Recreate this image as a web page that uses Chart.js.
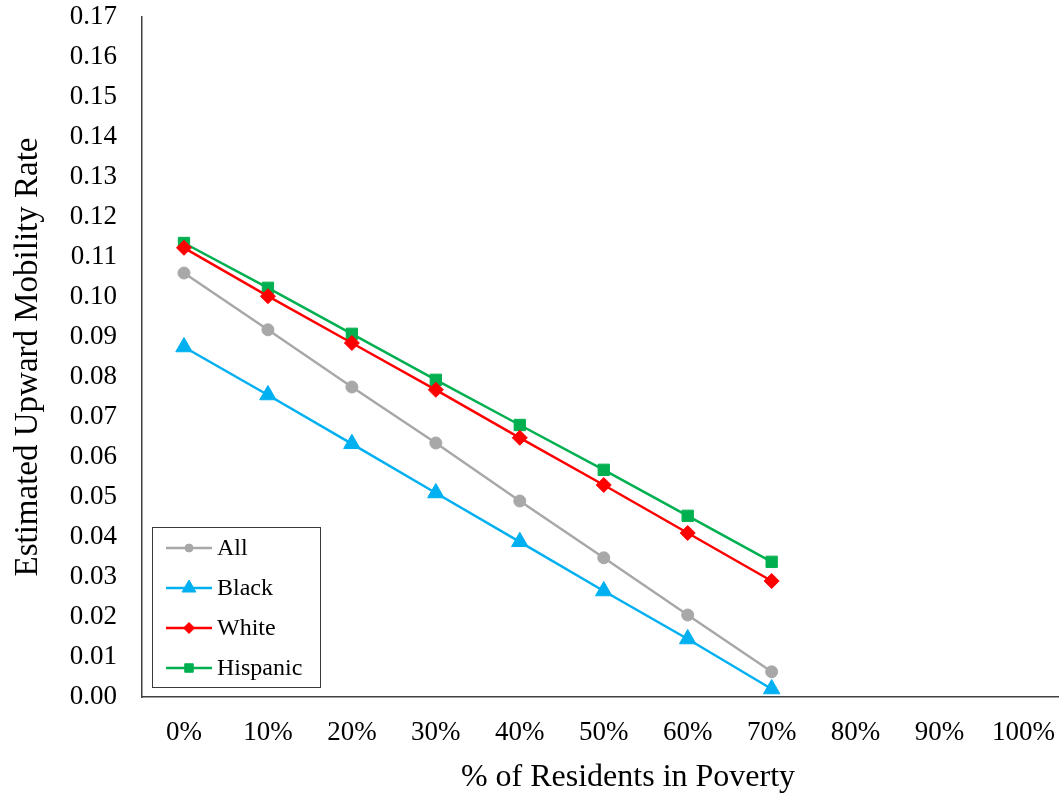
<!DOCTYPE html>
<html>
<head>
<meta charset="utf-8">
<title>Estimated Upward Mobility Rate by Neighborhood Poverty</title>
<script src="https://cdn.jsdelivr.net/npm/chart.js@4/dist/chart.umd.min.js"></script>
<style>
  html, body { margin: 0; padding: 0; background: #ffffff; overflow: hidden; }
  #wrap { width: 1059px; height: 800px; position: relative; overflow: hidden; }
  #chart { display: block; }
</style>
</head>
<body>
<div id="wrap"><canvas id="chart" width="1076" height="800"></canvas></div>
<script>
// Share of residents in poverty (x categories)
const categories = ['0%', '10%', '20%', '30%', '40%', '50%', '60%', '70%', '80%', '90%', '100%'];

// Estimated upward mobility rate per group (0%–70% poverty)
const allValues      = [0.1060, 0.0918, 0.0775, 0.0635, 0.0490, 0.0348, 0.0205, 0.0063];
const blackValues    = [0.0875, 0.0755, 0.0633, 0.0510, 0.0388, 0.0265, 0.0145, 0.0020];
const whiteValues    = [0.1123, 0.1002, 0.0885, 0.0768, 0.0648, 0.0530, 0.0410, 0.0290];
const hispanicValues = [0.1135, 0.1023, 0.0908, 0.0793, 0.0680, 0.0568, 0.0453, 0.0338];

const seriesNames = ['All', 'Black', 'White', 'Hispanic'];

// Y tick labels
const yTickLabels = ['0.00','0.01','0.02','0.03','0.04','0.05','0.06','0.07','0.08','0.09',
                     '0.10','0.11','0.12','0.13','0.14','0.15','0.16','0.17'];

const xTitle = '% of Residents in Poverty';

const serif = "'Liberation Serif', 'Times New Roman', 'DejaVu Serif', serif";

// Boxed legend drawn inside the plot area, lower left
const insideLegend = {
  id: 'insideLegend',
  afterDatasetsDraw(chart) {
    const ctx = chart.ctx;
    const area = chart.chartArea;
    const boxX = Math.round(area.left + 10), boxW = 168;
    const boxH = 160, boxY = Math.round(area.bottom - 10 - boxH);
    ctx.save();
    ctx.fillStyle = '#ffffff';
    ctx.fillRect(boxX, boxY, boxW, boxH);
    ctx.strokeStyle = '#3a3a3a';
    ctx.lineWidth = 1;
    ctx.strokeRect(boxX + 0.5, boxY + 0.5, boxW, boxH);
    chart.data.datasets.forEach((ds, i) => {
      const cy = boxY + 21 + i * 40;
      const x0 = boxX + 14, x1 = boxX + 60, cx = (x0 + x1) / 2;
      ctx.strokeStyle = ds.borderColor;
      ctx.lineWidth = 2.5;
      ctx.beginPath();
      ctx.moveTo(x0, cy);
      ctx.lineTo(x1, cy);
      ctx.stroke();
      ctx.fillStyle = ds.pointBackgroundColor;
      ctx.strokeStyle = ds.pointBorderColor;
      ctx.lineWidth = 1;
      if (Chart.helpers && Chart.helpers.drawPoint) {
        Chart.helpers.drawPoint(ctx, { pointStyle: ds.pointStyle, radius: ds.legendRadius, borderWidth: 1, rotation: 0 }, cx, cy);
      }
      ctx.fillStyle = '#000000';
      ctx.font = '24px ' + serif;
      ctx.textAlign = 'left';
      ctx.textBaseline = 'middle';
      ctx.fillText(ds.label, boxX + 65, cy + 1);
    });
    ctx.restore();
  }
};

// X axis title, set slightly right of the plot centre
const xAxisTitle = {
  id: 'xAxisTitle',
  afterDraw(chart) {
    const ctx = chart.ctx;
    const area = chart.chartArea;
    ctx.save();
    ctx.fillStyle = '#000000';
    ctx.font = '32px ' + serif;
    ctx.textAlign = 'center';
    ctx.textBaseline = 'middle';
    ctx.fillText(xTitle, area.left + 486, area.bottom + 81);
    ctx.restore();
  }
};

const makeSet = (label, data, color, style, radius, legendRadius) => ({
  label, data,
  borderColor: color,
  backgroundColor: color,
  pointBackgroundColor: color,
  pointBorderColor: color,
  pointStyle: style,
  pointRadius: radius,
  pointHoverRadius: radius,
  pointBorderWidth: 1,
  borderWidth: 2.5,
  tension: 0,
  legendRadius
});

new Chart(document.getElementById('chart'), {
  type: 'line',
  data: {
    labels: categories,
    datasets: [
      makeSet(seriesNames[0], allValues,      '#A8A8A8', 'circle',   6,   4),
      makeSet(seriesNames[1], blackValues,    '#00B0F0', 'triangle', 9.5, 8),
      makeSet(seriesNames[2], whiteValues,    '#FF0000', 'rectRot',  7.5, 5.5),
      makeSet(seriesNames[3], hispanicValues, '#00B050', 'rect',     8,   6)
    ]
  },
  options: {
    responsive: false,
    animation: false,
    layout: { padding: { top: 17, right: 0, left: 0, bottom: 0 } },
    plugins: {
      legend: { display: false },
      tooltip: { enabled: false }
    },
    scales: {
      x: {
        type: 'category',
        offset: true,
        grid: { display: false, drawTicks: false },
        border: { display: true, color: '#404040', width: 1.5 },
        ticks: { color: '#000000', font: { family: serif, size: 27 }, padding: 20, maxRotation: 0, autoSkip: false },
        title: { display: false },
        afterFit(scale) {
          scale.height = 103;
          scale.paddingLeft = 0;
          scale.paddingRight = 0;
        }
      },
      y: {
        min: 0,
        max: 0.17,
        grid: { display: false, drawTicks: false },
        border: { display: true, color: '#404040', width: 1.5 },
        ticks: {
          stepSize: 0.01,
          color: '#000000',
          font: { family: serif, size: 27 },
          padding: 25,
          callback: (v, i) => yTickLabels[i]
        },
        title: {
          display: true,
          text: 'Estimated Upward Mobility Rate',
          color: '#000000',
          font: { family: serif, size: 33 },
          padding: { top: 9, bottom: 0 }
        },
        afterFit(scale) {
          scale.width = 142;
          scale.paddingTop = 0;
          scale.paddingBottom = 0;
        }
      }
    }
  },
  plugins: [insideLegend, xAxisTitle, {
    id: 'whiteBg',
    beforeDraw(chart) {
      const c = chart.ctx;
      c.save();
      c.fillStyle = '#ffffff';
      c.fillRect(0, 0, chart.width, chart.height);
      c.restore();
    }
  }]
});
</script>
</body>
</html>
